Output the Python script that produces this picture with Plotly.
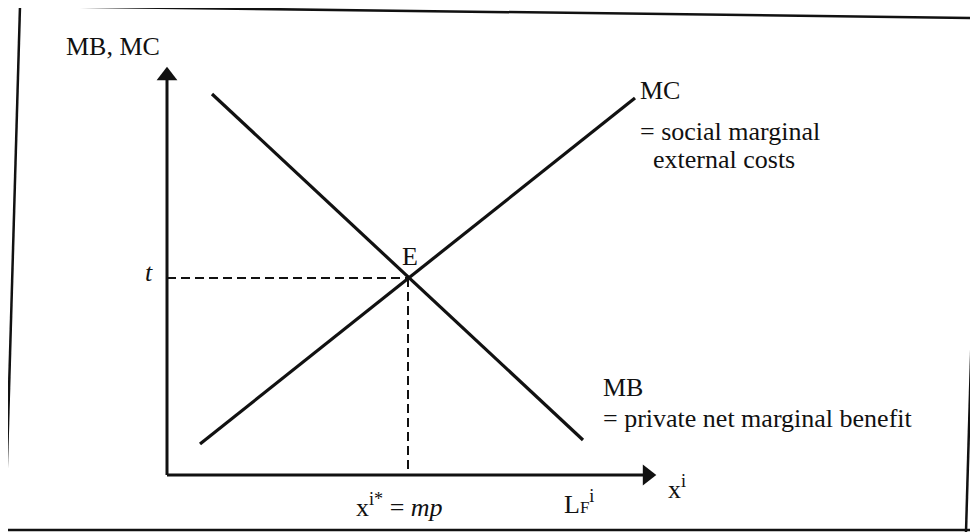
import plotly.graph_objects as go

# ---- values (abstract units, origin at axes corner) ----
mb_x = [4.5, 41.6]      # private net marginal benefit (falling)
mb_y = [38.1, 3.5]
mc_x = [3.3, 46.8]      # social marginal external costs (rising)
mc_y = [3.1, 37.7]
eq_x = 24.1             # x^i* = mp
eq_y = 19.7             # t
x_axis_end = 49.3
y_axis_end = 41.2

PAGE = 8                 # default page margin around the figure
W, H = 978 - PAGE, 532 - PAGE
OX, OY, S = 167, 475, 10.0   # screen-pixel origin and pixels per unit


def X(px):
    return (px - OX) / S


def Y(py):
    return (OY - py) / S


FONT = "Liberation Serif, Times New Roman, serif"
BLK = "#111111"

fig = go.Figure()

# axes
fig.add_trace(go.Scatter(x=[0, 0], y=[0, y_axis_end - 1.27], mode="lines",
                         line=dict(color=BLK, width=3), hoverinfo="skip"))
fig.add_trace(go.Scatter(x=[0, x_axis_end - 1.27], y=[0, 0], mode="lines",
                         line=dict(color=BLK, width=3), hoverinfo="skip"))
fig.add_trace(go.Scatter(x=[0], y=[y_axis_end - 1.27], mode="markers",
                         marker=dict(symbol="triangle-up", size=18, color=BLK),
                         hoverinfo="skip"))
fig.add_trace(go.Scatter(x=[x_axis_end - 1.27], y=[0], mode="markers",
                         marker=dict(symbol="triangle-right", size=18, color=BLK),
                         hoverinfo="skip"))

# curves
fig.add_trace(go.Scatter(x=mb_x, y=mb_y, mode="lines",
                         line=dict(color=BLK, width=3.2), name="MB"))
fig.add_trace(go.Scatter(x=mc_x, y=mc_y, mode="lines",
                         line=dict(color=BLK, width=3.2), name="MC"))

# dashed guides
fig.add_trace(go.Scatter(x=[0, eq_x], y=[eq_y, eq_y], mode="lines",
                         line=dict(color=BLK, width=2, dash="9px,5px"),
                         hoverinfo="skip"))
fig.add_trace(go.Scatter(x=[eq_x, eq_x], y=[eq_y, 0], mode="lines",
                         line=dict(color=BLK, width=2, dash="9px,5px"),
                         hoverinfo="skip"))


def label(text, px, py, xanchor="left", size=26):
    fig.add_annotation(x=X(px), y=Y(py), text=text, showarrow=False,
                       xanchor=xanchor, yanchor="middle",
                       font=dict(family=FONT, size=size, color=BLK))


label("MB, MC", 64, 46)
label("MC", 638, 90)
label("= social marginal", 638, 131)
label("external costs", 651, 159)
label("MB", 601, 387)
label("= private net marginal benefit", 601, 418)
label("<i>t</i>", 149, 272, xanchor="center")
label("E", 410, 256, xanchor="center")
label("x<sup>i*</sup> = <i>mp</i>", 354, 505)
label("L<span style='font-size:17px'>F</span><sup>i</sup>", 562, 502)
label("x<sup>i</sup>", 666, 487)

# scanned frame (screen pixels)
frame = [((20, 6), (978, 18)), ((20, 6), (5, 530)), ((5, 530), (978, 530)),
         ((977, 150), (966, 532))]
for (x0, y0), (x1, y1) in frame:
    fig.add_shape(type="line", xref="paper", yref="paper",
                  x0=(x0 - PAGE) / W, y0=1 - (y0 - PAGE) / H,
                  x1=(x1 - PAGE) / W, y1=1 - (y1 - PAGE) / H,
                  line=dict(color=BLK, width=2.5))

fig.update_layout(
    width=W, height=H, margin=dict(l=0, r=0, t=0, b=0),
    paper_bgcolor="white", plot_bgcolor="white", showlegend=False,
    xaxis=dict(range=[X(PAGE), X(PAGE + W)], visible=False, fixedrange=True),
    yaxis=dict(range=[Y(PAGE + H), Y(PAGE)], visible=False, fixedrange=True),
)

fig.write_html("out.html")
